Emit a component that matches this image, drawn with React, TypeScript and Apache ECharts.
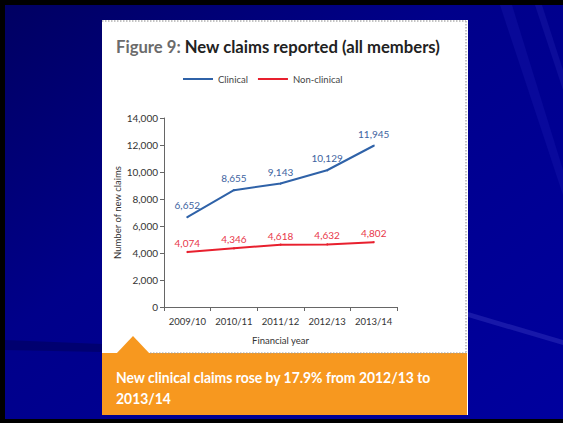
import React, { useEffect, useRef } from "react";
import * as echarts from "echarts";

const years = ["2009/10", "2010/11", "2011/12", "2012/13", "2013/14"];
const clinical = [6652, 8655, 9143, 10129, 11945];
const nonClinical = [4074, 4346, 4618, 4632, 4802];
const seriesNames = ["Clinical", "Non-clinical"];
const titleLead = "Figure 9:";
const titleRest = " New claims reported (all members)";
const yAxisTitle = "Number of new claims";
const xAxisTitle = "Financial year";
const noteLines = ["New clinical claims rose by 17.9% from 2012/13 to", "2013/14"];

const FONT = "Lato, 'Noto Sans', sans-serif";
const BLUE = "#2f62a8";
const RED = "#e8202e";

export default function App() {
  const ref = useRef<HTMLDivElement>(null);
  useEffect(() => {
    if (!ref.current) return;
    const chart = echarts.init(ref.current, undefined, { renderer: "svg" });
    const fmt = (v: number) => v.toLocaleString("en-US");
    chart.setOption({
      animation: false,
      backgroundColor: "#000000",
      textStyle: { fontFamily: FONT },
      legend: {
        top: 69,
        left: 178,
        itemWidth: 30,
        itemHeight: 2,
        itemGap: 10,
        icon: "rect",
        textStyle: { fontFamily: FONT, fontSize: 9.5, color: "#444" },
        data: seriesNames,
      },
      grid: { left: 164, right: 166, top: 118, bottom: 116 },
      xAxis: {
        type: "category",
        data: years,
        boundaryGap: true,
        name: xAxisTitle,
        nameLocation: "middle",
        nameGap: 28,
        nameTextStyle: { fontFamily: FONT, fontSize: 9.5, color: "#333" },
        axisLine: { lineStyle: { color: "#666", width: 1 } },
        axisTick: { show: true, length: 4, lineStyle: { color: "#666" } },
        axisLabel: { interval: 0, fontFamily: FONT, fontSize: 9.5, color: "#333", margin: 9 },
      },
      yAxis: {
        type: "value",
        min: 0,
        max: 14000,
        interval: 2000,
        name: yAxisTitle,
        nameLocation: "middle",
        nameGap: 42,
        nameTextStyle: { fontFamily: FONT, fontSize: 9.5, color: "#333" },
        axisLine: { show: true, lineStyle: { color: "#666", width: 1 } },
        axisTick: { show: true, length: 4, lineStyle: { color: "#666" } },
        splitLine: { show: false },
        axisLabel: {
          fontFamily: FONT,
          fontSize: 10,
          color: "#333",
          margin: 6,
          formatter: (v: number) => fmt(v),
        },
      },
      series: [
        {
          name: seriesNames[0],
          type: "line",
          data: clinical,
          color: BLUE,
          symbol: "circle",
          symbolSize: 2,
          itemStyle: { color: BLUE },
          lineStyle: { width: 2, color: BLUE },
          label: {
            show: true,
            position: "top",
            distance: 6,
            fontFamily: FONT,
            fontSize: 10,
            color: "#3d63a0",
            formatter: (p: any) => fmt(p.value),
          },
          z: 5,
        },
        {
          name: seriesNames[1],
          type: "line",
          data: nonClinical,
          color: RED,
          symbol: "circle",
          symbolSize: 2,
          itemStyle: { color: RED },
          lineStyle: { width: 2, color: RED },
          label: {
            show: true,
            position: "top",
            distance: 3,
            fontFamily: FONT,
            fontSize: 10,
            color: "#e8374a",
            formatter: (p: any) => fmt(p.value),
          },
          z: 5,
        },
      ],
      graphic: [
        {
          type: "rect",
          z: -20,
          silent: true,
          shape: { x: 5, y: 5, width: 558, height: 414 },
          style: {
            fill: new echarts.graphic.LinearGradient(0, 0, 1, 1, [
              { offset: 0, color: "#000062" },
              { offset: 0.4, color: "#00008a" },
              { offset: 1, color: "#00009e" },
            ]),
          },
        },
        {
          type: "polygon",
          z: -19,
          silent: true,
          shape: { points: [[500, 5], [512, 5], [563, 170], [563, 195]] },
          style: { fill: "rgba(40,40,190,0.22)" },
        },
        {
          type: "polygon",
          z: -19,
          silent: true,
          shape: { points: [[535, 5], [542, 5], [563, 70], [563, 90]] },
          style: { fill: "rgba(60,60,200,0.2)" },
        },
        {
          type: "polygon",
          z: -19,
          silent: true,
          shape: { points: [[468, 312], [468, 317], [563, 345], [563, 340]] },
          style: { fill: "rgba(70,70,200,0.35)" },
        },
        {
          type: "polygon",
          z: -19,
          silent: true,
          shape: { points: [[5, 340], [102, 344], [102, 352], [5, 350]] },
          style: { fill: "rgba(0,0,60,0.35)" },
        },
        {
          type: "rect",
          z: -10,
          silent: true,
          shape: { x: 102, y: 20, width: 366, height: 395 },
          style: { fill: "#ffffff" },
        },
        {
          type: "line",
          z: -9,
          silent: true,
          shape: { x1: 102, y1: 21, x2: 466, y2: 21 },
          style: { stroke: "#b0b0b0", lineWidth: 1.5, lineDash: [1.5, 1.5] },
        },
        {
          type: "line",
          z: -9,
          silent: true,
          shape: { x1: 466, y1: 21, x2: 466, y2: 353 },
          style: { stroke: "#b0b0b0", lineWidth: 1.5, lineDash: [1.5, 1.5] },
        },
        {
          type: "rect",
          z: -8,
          silent: true,
          shape: { x: 102, y: 353, width: 365, height: 62 },
          style: { fill: "#f7981f" },
        },
        {
          type: "polygon",
          z: -8,
          silent: true,
          shape: { points: [[116, 354], [133, 336], [150, 354]] },
          style: { fill: "#f7981f" },
        },
        {
          type: "line",
          z: -7,
          silent: true,
          shape: { x1: 150, y1: 353, x2: 466, y2: 353 },
          style: { stroke: "#9a9a9a", lineWidth: 1, lineDash: [1.5, 1.5] },
        },
        {
          type: "text",
          z: 10,
          x: 116,
          y: 38,
          scaleX: 0.98,
          style: {
            text: "{a|" + titleLead + "}{b|" + titleRest + "}",
            textVerticalAlign: "top",
            rich: {
              a: { fontFamily: FONT, fontSize: 17, fontWeight: "bold", fill: "#6b6b6b" },
              b: { fontFamily: FONT, fontSize: 17, fontWeight: "bold", fill: "#222222" },
            },
          },
        },
        {
          type: "text",
          z: 10,
          x: 116,
          y: 366,
          scaleX: 0.87,
          style: {
            text: noteLines.join("\n"),
            textVerticalAlign: "top",
            fontFamily: FONT,
            fontSize: 16,
            fontWeight: "bold",
            lineHeight: 21,
            fill: "#ffffff",
          },
        },
      ],
    });
    return () => chart.dispose();
  }, []);
  return (
    <div
      ref={ref}
      style={{ position: "absolute", left: 0, top: 0, width: 563, height: 423 }}
    />
  );
}
